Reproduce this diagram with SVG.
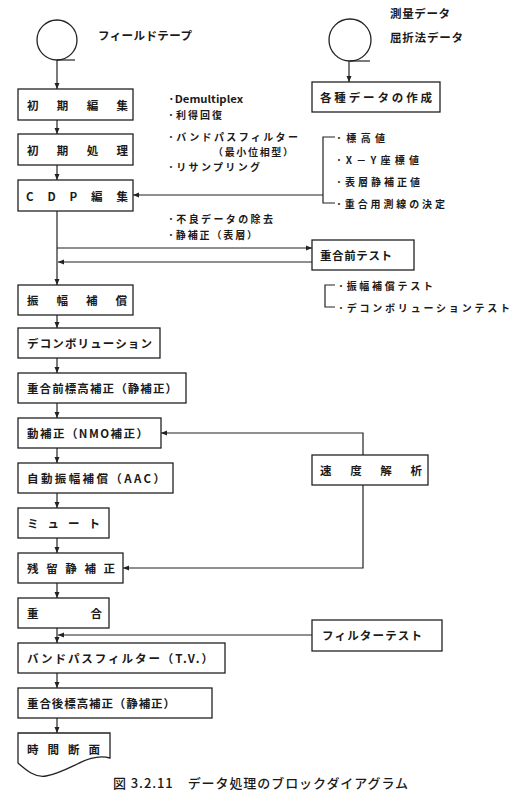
<svg xmlns="http://www.w3.org/2000/svg" width="517" height="795" viewBox="0 0 517 795">
<style>
.b{fill:#fff;stroke:#222;stroke-width:1.3}
.l{fill:none;stroke:#222;stroke-width:1.2}
text{font-family:"Noto Sans CJK JP","Noto Sans",sans-serif;font-weight:700;font-size:11.5px;fill:#1a1a1a;dominant-baseline:central}
.n{font-size:10px}
.cap{font-weight:500;font-size:13px}
</style>
<defs>
<marker id="ah" markerWidth="6" markerHeight="6" refX="6" refY="3" orient="auto" markerUnits="userSpaceOnUse"><path d="M0,0.5 L6,3 L0,5.5 z" fill="#222"/></marker>
</defs>
<rect width="517" height="795" fill="#fff"/>
<g id="connectors">
<path class="l" d="M57,60 V89" marker-end="url(#ah)"/>
<path class="l" d="M57,120 V134" marker-end="url(#ah)"/>
<path class="l" d="M57,165 V180" marker-end="url(#ah)"/>
<path class="l" d="M57,211 V285" marker-end="url(#ah)"/>
<path class="l" d="M57,248 H312" marker-end="url(#ah)"/>
<path class="l" d="M312,262 H58" marker-end="url(#ah)"/>
<path class="l" d="M57,315 V328" marker-end="url(#ah)"/>
<path class="l" d="M57,358 V373" marker-end="url(#ah)"/>
<path class="l" d="M57,403 V418" marker-end="url(#ah)"/>
<path class="l" d="M57,448 V463" marker-end="url(#ah)"/>
<path class="l" d="M57,493 V508" marker-end="url(#ah)"/>
<path class="l" d="M57,538 V553" marker-end="url(#ah)"/>
<path class="l" d="M57,583 V598" marker-end="url(#ah)"/>
<path class="l" d="M57,628 V643" marker-end="url(#ah)"/>
<path class="l" d="M312,635 H58" marker-end="url(#ah)"/>
<path class="l" d="M57,673 V688" marker-end="url(#ah)"/>
<path class="l" d="M57,718 V733" marker-end="url(#ah)"/>
<path class="l" d="M349,61 V82" marker-end="url(#ah)"/>
<path class="l" d="M323,195 H133" marker-end="url(#ah)"/>
<path class="l" d="M335,137 H323 V203 H335"/>
<path class="l" d="M335,285 H325 V307 H335"/>
<path class="l" d="M363,455 V433 H161" marker-end="url(#ah)"/>
<path class="l" d="M363,485 V568 H123" marker-end="url(#ah)"/>
</g>
<g id="n-fieldtape">
<circle class="b" cx="57" cy="40" r="20"/>
<path class="l" d="M57,60 H75"/>
<text x="98" y="35" textLength="94" lengthAdjust="spacing">フィールドテープ</text>
</g>
<g id="n-survey">
<circle class="b" cx="350" cy="40" r="21"/>
<path class="l" d="M350,61 H370"/>
<text x="390" y="13" textLength="60" lengthAdjust="spacing">測量データ</text>
<text x="390" y="37" textLength="73" lengthAdjust="spacing">屈折法データ</text>
</g>
<g id="n-shoki-henshu">
<rect class="b" x="18" y="89" width="115" height="31"/>
<text x="27" y="105" textLength="101" lengthAdjust="spacing">初期編集</text>
</g>
<g id="n-shoki-shori">
<rect class="b" x="18" y="134" width="115" height="31"/>
<text x="27" y="150" textLength="101" lengthAdjust="spacing">初期処理</text>
</g>
<g id="n-cdp">
<rect class="b" x="18" y="180" width="115" height="31"/>
<text x="26" y="196" textLength="102" lengthAdjust="spacing">CDP編集</text>
</g>
<g id="n-kakushu">
<rect class="b" x="312" y="82" width="128" height="30"/>
<text x="320" y="97" textLength="112" lengthAdjust="spacing">各種データの作成</text>
</g>
<g id="notes">
<text class="n" x="168" y="98" textLength="75" lengthAdjust="spacingAndGlyphs">·Demultiplex</text>
<text class="n" x="168" y="114" textLength="54" lengthAdjust="spacing">·利得回復</text>
<text class="n" x="168" y="136" textLength="130" lengthAdjust="spacing">·バンドパスフィルター</text>
<text class="n" x="213" y="151" textLength="80" lengthAdjust="spacing">（最小位相型）</text>
<text class="n" x="168" y="166" textLength="92" lengthAdjust="spacing">·リサンプリング</text>
<text class="n" x="336" y="137" textLength="49" lengthAdjust="spacing">·標高値</text>
<text class="n" x="336" y="159" textLength="83" lengthAdjust="spacing">·X－Y座標値</text>
<text class="n" x="336" y="181" textLength="84" lengthAdjust="spacing">·表層静補正値</text>
<text class="n" x="336" y="203" textLength="109" lengthAdjust="spacing">·重合用測線の決定</text>
<text class="n" x="168" y="218" textLength="105" lengthAdjust="spacing">·不良データの除去</text>
<text class="n" x="168" y="234" textLength="89" lengthAdjust="spacing">·静補正（表層）</text>
<text class="n" x="338" y="285" textLength="95" lengthAdjust="spacing">·振幅補償テスト</text>
<text class="n" x="338" y="307" textLength="172" lengthAdjust="spacing">·デコンボリューションテスト</text>
</g>
<g id="n-pretest">
<rect class="b" x="312" y="240" width="102" height="30"/>
<text x="320" y="255" textLength="72" lengthAdjust="spacing">重合前テスト</text>
</g>
<g id="n-shinpuku">
<rect class="b" x="18" y="285" width="115" height="30"/>
<text x="27" y="300" textLength="100" lengthAdjust="spacing">振幅補償</text>
</g>
<g id="n-decon">
<rect class="b" x="18" y="328" width="142" height="30"/>
<text x="27" y="343" textLength="125" lengthAdjust="spacing">デコンボリューション</text>
</g>
<g id="n-prestatic">
<rect class="b" x="18" y="373" width="168" height="30"/>
<text x="27" y="388" textLength="150" lengthAdjust="spacing">重合前標高補正（静補正）</text>
</g>
<g id="n-nmo">
<rect class="b" x="18" y="418" width="143" height="30"/>
<text x="27" y="433" textLength="121" lengthAdjust="spacing">動補正（NMO補正）</text>
</g>
<g id="n-aac">
<rect class="b" x="18" y="463" width="155" height="30"/>
<text x="27" y="478" textLength="138" lengthAdjust="spacing">自動振幅補償（AAC）</text>
</g>
<g id="n-velocity">
<rect class="b" x="312" y="455" width="116" height="30"/>
<text x="320" y="470" textLength="102" lengthAdjust="spacing">速度解析</text>
</g>
<g id="n-mute">
<rect class="b" x="18" y="508" width="91" height="30"/>
<text x="27" y="523" textLength="73" lengthAdjust="spacing">ミュート</text>
</g>
<g id="n-residual">
<rect class="b" x="18" y="553" width="105" height="30"/>
<text x="27" y="568" textLength="88" lengthAdjust="spacing">残留静補正</text>
</g>
<g id="n-stack">
<rect class="b" x="18" y="598" width="91" height="30"/>
<text x="27" y="613" textLength="75" lengthAdjust="spacing">重合</text>
</g>
<g id="n-filtertest">
<rect class="b" x="312" y="620" width="130" height="31"/>
<text x="322" y="635" textLength="100" lengthAdjust="spacing">フィルターテスト</text>
</g>
<g id="n-bpf">
<rect class="b" x="18" y="643" width="207" height="30"/>
<text x="27" y="658" textLength="186" lengthAdjust="spacing">バンドパスフィルター（T.V.）</text>
</g>
<g id="n-poststatic">
<rect class="b" x="18" y="688" width="194" height="30"/>
<text x="27" y="703" textLength="148" lengthAdjust="spacing">重合後標高補正（静補正）</text>
</g>
<g id="n-section">
<path class="b" d="M18,733 H110 V758 C88,752 70,772 46,776 C35,778 26,770 18,763 Z"/>
<text x="27" y="749" textLength="73" lengthAdjust="spacing">時間断面</text>
</g>
<text class="cap" x="113" y="782" textLength="295" lengthAdjust="spacing">図 3.2.11　データ処理のブロックダイアグラム</text>
</svg>
